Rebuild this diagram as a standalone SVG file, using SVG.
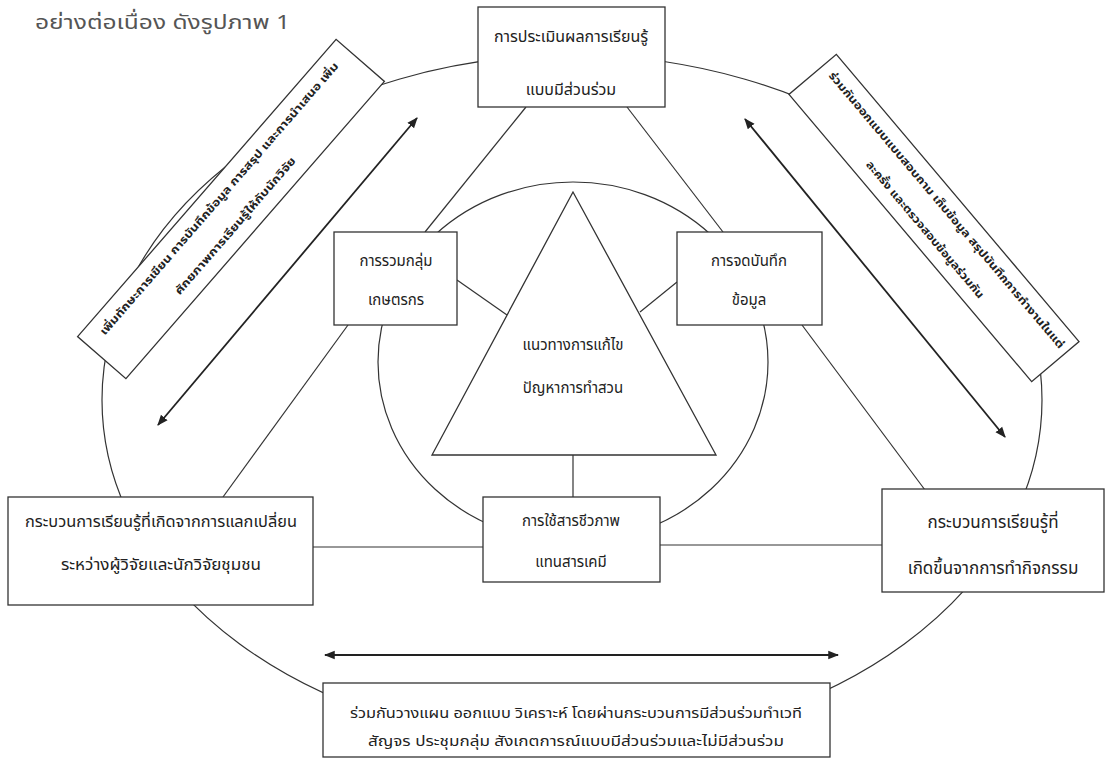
<svg xmlns="http://www.w3.org/2000/svg" width="1107" height="760" viewBox="0 0 1107 760">
<defs>
<style>
.bg{fill:#ffffff}
.box{fill:#ffffff;stroke:#333;stroke-width:1.3}
.ln{fill:none;stroke:#333;stroke-width:1.2}
.arr{fill:none;stroke:#222;stroke-width:1.8}
.t{font-family:"Noto Sans Thai","Noto Sans","DejaVu Sans",sans-serif;fill:#222;text-anchor:middle}
.s16{font-size:16px}
.s15{font-size:15px}
.s17{font-size:17px}
.s14{font-size:14px}
.s11{font-size:11px;font-weight:bold}
.hdr{font-family:"Noto Sans Thai","Liberation Sans","Noto Sans",sans-serif;font-size:20px;fill:#555}
</style>
<marker id="ah" viewBox="0 0 10 10" refX="9" refY="5" markerWidth="6" markerHeight="6" orient="auto-start-reverse" markerUnits="strokeWidth">
<path d="M0,1 L10,5 L0,9 z" fill="#222"/>
</marker>
</defs>
<rect class="bg" x="0" y="0" width="1107" height="760"/>
<text class="hdr" x="35" y="29" textLength="255" lengthAdjust="spacingAndGlyphs">อย่างต่อเนื่อง ดังรูปภาพ 1</text>

<g id="connectors">
<ellipse class="ln" cx="572" cy="400" rx="470" ry="345"/>
<ellipse class="ln" cx="573" cy="362" rx="195" ry="180"/>
<line class="ln" x1="526" y1="107" x2="425" y2="232"/>
<line class="ln" x1="627" y1="107" x2="723" y2="232"/>
<line class="ln" x1="348" y1="325" x2="223" y2="497"/>
<line class="ln" x1="802" y1="325" x2="925" y2="490"/>
<line class="ln" x1="457" y1="280" x2="507" y2="315"/>
<line class="ln" x1="640" y1="312" x2="677" y2="282"/>
<line class="ln" x1="573" y1="455" x2="573" y2="497"/>
<line class="ln" x1="313" y1="547" x2="483" y2="547"/>
<line class="ln" x1="660" y1="545" x2="882" y2="545"/>
<line class="arr" x1="417" y1="118" x2="158" y2="425" marker-start="url(#ah)" marker-end="url(#ah)"/>
<line class="arr" x1="745" y1="119" x2="1005" y2="437" marker-start="url(#ah)" marker-end="url(#ah)"/>
<line class="arr" x1="325" y1="655" x2="838" y2="655" marker-start="url(#ah)" marker-end="url(#ah)"/>
</g>

<g id="top-assessment">
<rect class="box" x="478" y="7" width="187" height="100"/>
<text class="t s16" x="571" y="42">การประเมินผลการเรียนรู้</text>
<text class="t s16" x="571" y="95">แบบมีส่วนร่วม</text>
</g>

<g id="left-note" transform="translate(231,209) rotate(-49)">
<rect class="box" x="-197" y="-32" width="394" height="64"/>
<text class="t s11" x="0" y="-12" textLength="357" lengthAdjust="spacingAndGlyphs">เพิ่มทักษะการเขียน การบันทึกข้อมูล การสรุป และการนำเสนอ เพิ่ม</text>
<text class="t s11" x="-10" y="18" textLength="178" lengthAdjust="spacingAndGlyphs">ศักยภาพการเรียนรู้ให้กับนักวิจัย</text>
</g>

<g id="right-note" transform="translate(934,218) rotate(49.8)">
<rect class="box" x="-188" y="-31" width="376" height="62"/>
<text class="t s11" x="2" y="-11" textLength="358" lengthAdjust="spacingAndGlyphs">ร่วมกันออกแบบแบบสอบถาม เก็บข้อมูล สรุปบันทึกการทำงานในแต่</text>
<text class="t s11" x="3" y="18" textLength="176" lengthAdjust="spacingAndGlyphs">ละครั้ง และตรวจสอบข้อมูลร่วมกัน</text>
</g>

<g id="triangle">
<polygon class="box" points="573,192 432,455 716,455"/>
<text class="t s15" x="573" y="350">แนวทางการแก้ไข</text>
<text class="t s15" x="573" y="393">ปัญหาการทำสวน</text>
</g>

<g id="farmer-group">
<rect class="box" x="334" y="232" width="123" height="93"/>
<text class="t s15" x="396" y="266">การรวมกลุ่ม</text>
<text class="t s15" x="396" y="305">เกษตรกร</text>
</g>

<g id="record-data">
<rect class="box" x="677" y="232" width="145" height="93"/>
<text class="t s15" x="749" y="266">การจดบันทึก</text>
<text class="t s15" x="749" y="305">ข้อมูล</text>
</g>

<g id="bio-substance">
<rect class="box" x="483" y="497" width="177" height="85"/>
<text class="t s15" x="571" y="526">การใช้สารชีวภาพ</text>
<text class="t s15" x="571" y="567">แทนสารเคมี</text>
</g>

<g id="exchange-learning">
<rect class="box" x="8" y="497" width="305" height="108"/>
<text class="t s15" x="161" y="527" textLength="272" lengthAdjust="spacingAndGlyphs">กระบวนการเรียนรู้ที่เกิดจากการแลกเปลี่ยน</text>
<text class="t s15" x="161" y="570" textLength="200" lengthAdjust="spacingAndGlyphs">ระหว่างผู้วิจัยและนักวิจัยชุมชน</text>
</g>

<g id="activity-learning">
<rect class="box" x="882" y="489" width="222" height="103"/>
<text class="t s17" x="993" y="528">กระบวนการเรียนรู้ที่</text>
<text class="t s17" x="993" y="574">เกิดขึ้นจากการทำกิจกรรม</text>
</g>

<g id="participatory-plan">
<rect class="box" x="323" y="683" width="507" height="74"/>
<text class="t s14" x="576" y="718" textLength="452" lengthAdjust="spacingAndGlyphs">ร่วมกันวางแผน ออกแบบ วิเคราะห์ โดยผ่านกระบวนการมีส่วนร่วมทำเวที</text>
<text class="t s14" x="576" y="746" textLength="416" lengthAdjust="spacingAndGlyphs">สัญจร ประชุมกลุ่ม สังเกตการณ์แบบมีส่วนร่วมและไม่มีส่วนร่วม</text>
</g>
</svg>
